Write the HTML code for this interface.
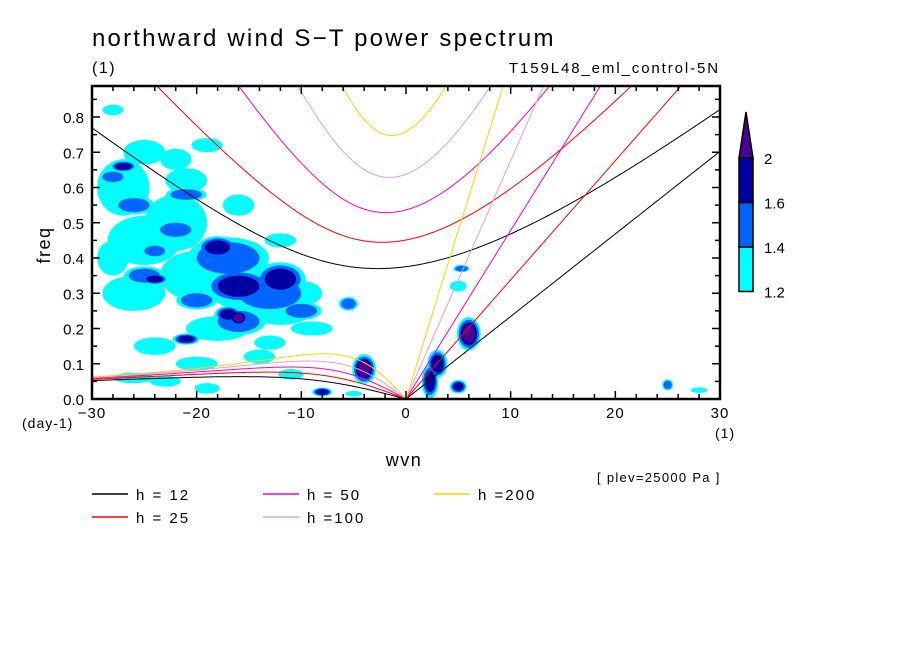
<!DOCTYPE html>
<html><head><meta charset="utf-8"><style>
body{margin:0;background:#fff;}
svg{display:block;font-family:"Liberation Sans",sans-serif;}
</style></head><body>
<svg id="chart" width="904" height="654" viewBox="0 0 904 654">
<rect width="904" height="654" fill="#fff"/>
<text x="92" y="46" font-size="24" letter-spacing="2.2">northward wind S−T power spectrum</text>
<text x="92" y="73" font-size="16" letter-spacing="1.5">(1)</text>
<text x="720" y="73" font-size="15" letter-spacing="1.9" text-anchor="end">T159L48_eml_control-5N</text>
<defs><clipPath id="pc"><rect x="92" y="86" width="628" height="313"/></clipPath></defs>
<g id="blobs" clip-path="url(#pc)"></g>
<g id="curves" clip-path="url(#pc)"></g>
<g id="axes"></g>
<text transform="translate(50,245) rotate(-90)" font-size="18" letter-spacing="1.5" text-anchor="middle">freq</text>
<text x="404" y="466" font-size="18" letter-spacing="1.5" text-anchor="middle">wvn</text>
<text x="22" y="428" font-size="14" letter-spacing="1">(day-1)</text>
<text x="715" y="438" font-size="14" letter-spacing="1">(1)</text>
<text x="597" y="482" font-size="13" letter-spacing="1.3">[ plev=25000 Pa ]</text>
<g id="cbar"></g>
<g id="legend"></g>
</svg>
<script>
const hDepths=[12,25,50,100,200];
const hLabels=["h = 12","h = 25","h = 50","h =100","h =200"];
const hColors=["#000000","#ff0000","#ff00c0","#dda0dd","#ffd200"];
const xTicks=[-30,-20,-10,0,10,20,30];
const yTicks=[0,0.1,0.2,0.3,0.4,0.5,0.6,0.7,0.8];
const levelVals=[1.2,1.4,1.6,2];
const levelColors=["#00ffff","#0064ff","#0000a0","#4b0096"];
// blobs: wvn, freq, half-width (wvn), half-height (freq), level
const blobWvn=[-27,-25,-22,-26,-20,-15,-12,-18,-24,-25,-21,-22,-16,-12,-20,-26,-14,-28,-28,-10,-9,-23,-19,-13,
 -17,-22,-26,-13,-16,-21,-25,-10,-20,-28,-24,
 -16,-12,-18,-17,-24,-21,-27,
 -16,-4,-5.5,-8,2.3,3,6,5,5,5.3,25,28,-5,-11,-19];
const blobFreq=[0.6,0.45,0.5,0.3,0.35,0.32,0.25,0.2,0.15,0.7,0.62,0.68,0.55,0.45,0.1,0.06,0.12,0.82,0.4,0.3,0.2,0.05,0.72,0.16,
 0.4,0.48,0.55,0.3,0.22,0.58,0.35,0.25,0.28,0.63,0.42,
 0.32,0.34,0.43,0.24,0.34,0.17,0.66,
 0.23,0.085,0.27,0.02,0.05,0.1,0.185,0.035,0.32,0.37,0.04,0.025,0.015,0.07,0.03];
const blobRw=[2.5,3.5,3,3,3.5,4,3,3,2,2,2,1.5,1.5,1.5,2,2,1.5,1,1.5,2,2,1.5,1.5,1.5,
 3,1.5,1.5,3,2,1.5,1.5,1.5,1.5,1,1,
 2,1.5,1.2,0.8,0.8,0.8,0.8,
 0.5,0.6,0.7,0.6,0.5,0.6,0.6,0.5,0.8,0.6,0.4,0.8,0.8,1.2,1.2];
const blobRf=[0.08,0.07,0.08,0.05,0.07,0.07,0.04,0.035,0.025,0.035,0.035,0.03,0.03,0.02,0.02,0.015,0.02,0.015,0.05,0.035,0.02,0.015,0.02,0.02,
 0.045,0.02,0.02,0.045,0.03,0.015,0.02,0.02,0.02,0.015,0.015,
 0.03,0.03,0.02,0.015,0.01,0.01,0.01,
 0.012,0.022,0.015,0.008,0.03,0.025,0.025,0.012,0.015,0.008,0.012,0.008,0.008,0.015,0.015];
const blobLvl=[1,1,1,1,1,1,1,1,1,1,1,1,1,1,1,1,1,1,1,1,1,1,1,1,
 2,2,2,2,2,2,2,2,2,2,2,
 3,3,3,3,3,3,3,
 4,4,2,3,3,3,4,3,1,2,2,1,1,1,1];

const L=92,R=720,T=86,B=399,XMIN=-30,XMAX=30,YMAX=(B-T)/352.5;
const xs=v=>L+(v-XMIN)/(XMAX-XMIN)*(R-L);
const ys=v=>B-v/YMAX*(B-T);
const NS="http://www.w3.org/2000/svg";
function mk(tag,attrs,parent){const e=document.createElementNS(NS,tag);for(const k in attrs)e.setAttribute(k,attrs[k]);parent.appendChild(e);return e;}

// contour blobs
const gB=document.getElementById('blobs');
for(let lv=1;lv<=4;lv++){
  for(let i=0;i<blobWvn.length;i++){
    if(blobLvl[i]<lv)continue;
    const s=1+0.3*(blobLvl[i]-lv);
    const cx=xs(blobWvn[i]),cy=ys(blobFreq[i]);
    const rx=blobRw[i]*s*(R-L)/60,ry=blobRf[i]*s*(B-T)/YMAX;
    const e=mk('ellipse',{cx:cx,cy:cy,rx:rx,ry:ry,fill:levelColors[lv-1]},gB);
    
    
  }
}

// dispersion curves (Matsuno shallow-water, n=1 and Kelvin)
const beta=2.29e-11,a=6.371e6,g=9.81,cpd=86400/(2*Math.PI);
function roots(k,c){
  const km=k/a,A=c*c*km*km+3*beta*c,Bc=beta*c*c*km;
  const p=-A,q=-Bc;const m=2*Math.sqrt(-p/3);
  const th=Math.acos(Math.max(-1,Math.min(1,(3*q/(2*p))*Math.sqrt(-3/p))))/3;
  return [m*Math.cos(th),m*Math.cos(th-2*Math.PI/3),m*Math.cos(th-4*Math.PI/3)].map(v=>v*cpd);
}
const gC=document.getElementById('curves');
hDepths.forEach((h,i)=>{
  const c=Math.sqrt(g*h);
  let ig=[],ro=[],kv=[];
  for(let k=-30;k<=30.001;k+=0.1){
    const r=roots(k,c).sort((x,y)=>y-x);
    ig.push(xs(k).toFixed(1)+','+ys(r[0]).toFixed(1));
    if(k<=0.001)ro.push(xs(k).toFixed(1)+','+ys(Math.max(0,r[1])).toFixed(1));
    if(k>=-0.001)kv.push(xs(k).toFixed(1)+','+ys(c*k/a*cpd).toFixed(1));
  }
  [[ig,'ig'],[ro,'rossby'],[kv,'kelvin']].forEach(([pts,nm])=>{
    const p=mk('polyline',{points:pts.join(' '),fill:'none',stroke:hColors[i],'stroke-width':1},gC);
    
    
  });
});

// axes
const gA=document.getElementById('axes');
const fr=mk('rect',{x:L,y:T,width:R-L,height:B-T,fill:'none',stroke:'#000','stroke-width':2.5},gA);

for(let v=-30;v<=30;v+=2){
  const big=v%10===0,len=big?8:5,x=xs(v);
  mk('line',{x1:x,y1:B,x2:x,y2:B-len,stroke:'#000','stroke-width':1.5},gA);
  mk('line',{x1:x,y1:T,x2:x,y2:T+len,stroke:'#000','stroke-width':1.5},gA);
}
for(let j=0;j<=17;j++){
  const v=j*0.05,y=ys(v),len=j%2===0?8:5;
  mk('line',{x1:L,y1:y,x2:L+len,y2:y,stroke:'#000','stroke-width':1.5},gA);
  mk('line',{x1:R,y1:y,x2:R-len,y2:y,stroke:'#000','stroke-width':1.5},gA);
}
xTicks.forEach(v=>{
  const t=mk('text',{x:xs(v),y:418,'font-size':15,'text-anchor':'middle','letter-spacing':1},gA);
  t.textContent=(v<0?'−':'')+Math.abs(v);
  
});
yTicks.forEach(v=>{
  const t=mk('text',{x:84,y:ys(v)+6,'font-size':15,'text-anchor':'end'},gA);
  t.textContent=v.toFixed(1);
  
});

// colorbar
const gCb=document.getElementById('cbar');
const cbx=739,cbw=14,cbTop=158,seg=44.5;
for(let i=0;i<3;i++){
  const r=mk('rect',{x:cbx,y:cbTop+(2-i)*seg,width:cbw,height:seg,fill:levelColors[i],stroke:'#000','stroke-width':1.5},gCb);
  
}
const tri=mk('polygon',{points:`${cbx},${cbTop} ${cbx+cbw},${cbTop} ${cbx+cbw/2},${cbTop-46}`,fill:levelColors[3],stroke:'#000','stroke-width':1.5},gCb);

levelVals.forEach((v,i)=>{
  const t=mk('text',{x:764,y:cbTop+(3-i)*seg+6,'font-size':15},gCb);
  t.textContent=String(v);
  
});

// legend
const gL=document.getElementById('legend');
hDepths.forEach((h,i)=>{
  const col=Math.floor(i/2),row=i%2;
  const x=92+col*171,y=494+row*23;
  const g=mk('g',{},gL);
  
  mk('line',{x1:x,y1:y,x2:x+36,y2:y,stroke:hColors[i],'stroke-width':1.5},g);
  const t=mk('text',{x:x+44,y:y+6,'font-size':15,'letter-spacing':2},g);
  t.textContent=hLabels[i];
});
</script>
</body></html>
